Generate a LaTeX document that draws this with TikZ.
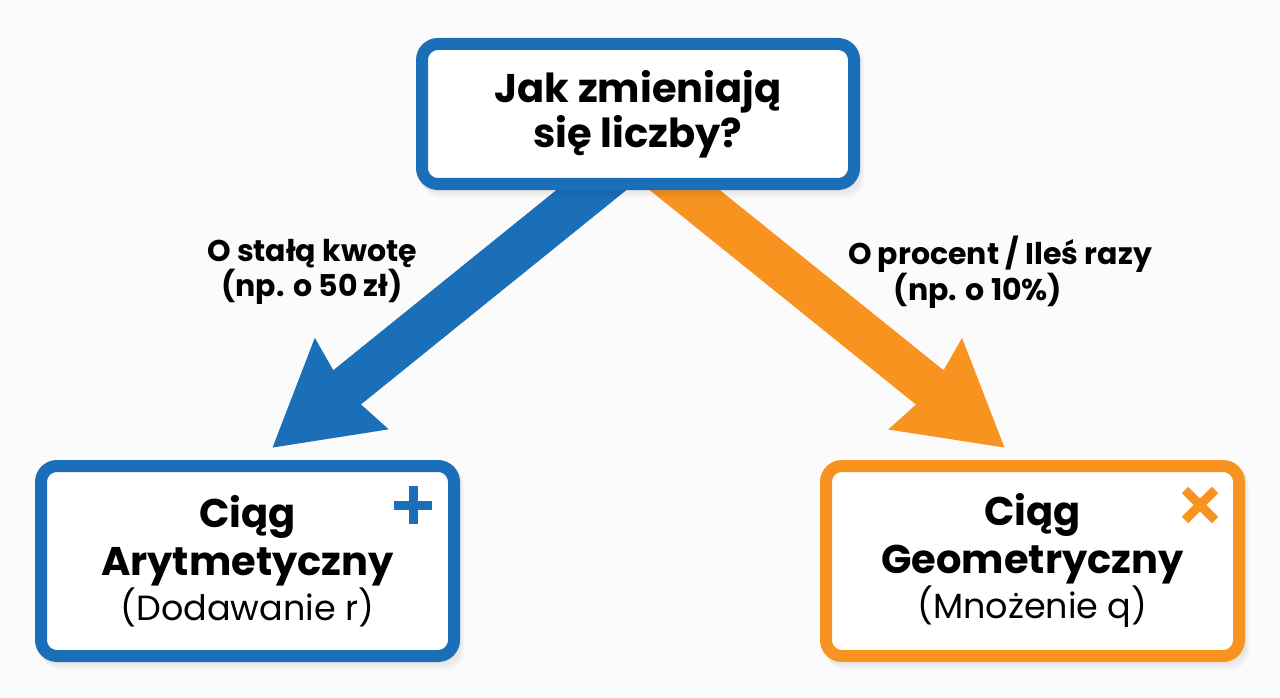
\documentclass[tikz,border=0pt]{standalone}
\usepackage{fontspec}
\setmainfont{Poppins}
\usetikzlibrary{arrows.meta}
\definecolor{cblue}{HTML}{1B6FB8}
\definecolor{corange}{HTML}{F7931E}
\definecolor{bg}{HTML}{FBFBFB}
\begin{document}
\begin{tikzpicture}[x=1pt,y=-1pt,
  box/.style={draw, line width=12pt, rounded corners=16pt, fill=white,
    align=center, inner sep=0pt, text=black},
  sidebox/.style={box, minimum width=413pt, minimum height=190pt,
    font=\fontsize{40}{48}\selectfont\bfseries},
  bigarrow/.style={line width=44pt, -{Stealth[length=100pt,width=111pt,inset=7pt]}},
  lbl/.style={align=center, font=\fontsize{30}{31}\selectfont\bfseries, inner sep=0pt},
  titlefont/.style={font=\fontsize{40}{45}\selectfont\bfseries},
  sign/.style={line width=9pt}
]
\fill[bg] (0,0) rectangle (1280,698);

% arrow start points (hidden under the top box) and tips
\coordinate (bstart) at (641,150);
\coordinate (btip) at (272,448);
\coordinate (ostart) at (635,150);
\coordinate (otip) at (1005,448);

\draw[bigarrow, cblue] (bstart) -- (btip);
\draw[bigarrow, corange] (ostart) -- (otip);

% soft shadows
\foreach \d in {2,4,6,8}{
  \fill[black, opacity=0.018, rounded corners=18pt] (416+\d,38+\d) rectangle (860+\d/2,190+\d);
  \fill[black, opacity=0.018, rounded corners=18pt] (35+\d,460+\d) rectangle (460+\d/2,662+\d);
  \fill[black, opacity=0.018, rounded corners=18pt] (820+\d,460+\d) rectangle (1245+\d/2,662+\d);
}

\node[box, draw=cblue, minimum width=432pt, minimum height=140pt, titlefont]
  (top) at (638,114) {Jak zmieniają\\się liczby?};

\node[sidebox, draw=cblue] (arith) at (247.5,561)
  {Ciąg\\Arytmetyczny\\[-3pt]{\mdseries\fontsize{35}{45}\selectfont (Dodawanie r)}};

\node[sidebox, draw=corange] (geom) at (1032.5,561)
  {Ciąg\\Geometryczny\\[-3pt]{\mdseries\fontsize{35}{45}\selectfont (Mnożenie q)}};

\node[lbl] (lblA) at (312,272) {O stałą kwotę\\(np. o 50 zł)};
\node[lbl] (lblG) at (1000,272) {O procent / Ileś razy\\(np. o 10\%)\hspace*{44pt}};

% plus sign
\draw[sign, cblue] (394,505) -- (432,505);
\draw[sign, cblue] (413,486) -- (413,524);
% times sign
\draw[sign, corange] (1185,490) -- (1215,520);
\draw[sign, corange] (1185,520) -- (1215,490);
\end{tikzpicture}
\end{document}
